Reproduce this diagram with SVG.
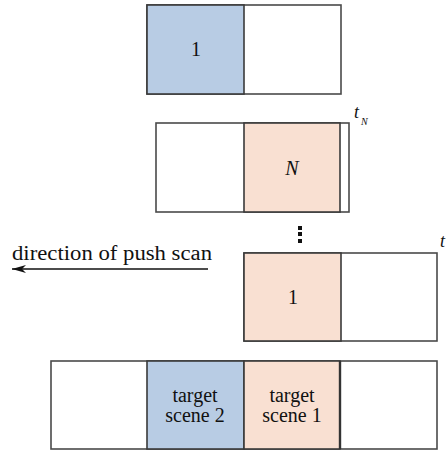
<svg xmlns="http://www.w3.org/2000/svg" width="448" height="452" viewBox="0 0 448 452">
<style>
.box{fill:#fff;stroke:#4a4a4a;stroke-width:1.6}
.blue{fill:#b8cce4;stroke:#3a3a3a;stroke-width:1.6}
.peach{fill:#f9e0d2;stroke:#3a3a3a;stroke-width:1.6}
.t{font-family:"Liberation Serif",serif;font-size:20px;fill:#111;text-anchor:middle}
.i{font-style:italic}
.s{text-anchor:start}
</style>
<defs>
<marker id="ah" viewBox="0 0 14 8" refX="14" refY="4" markerWidth="14" markerHeight="8" markerUnits="userSpaceOnUse" orient="auto">
<path d="M14,4 L0,0 L4,4 L0,8 Z" fill="#111"/>
</marker>
</defs>
<g id="frame1">
<rect class="box" x="147" y="5" width="194" height="89"/>
<rect class="blue" x="147" y="5" width="97" height="89"/>
<text class="t" x="196" y="56">1</text>
</g>
<g id="frameN">
<rect class="box" x="156" y="123" width="193" height="89"/>
<rect class="peach" x="244" y="123" width="96" height="89"/>
<text class="t i" x="292" y="175">N</text>
<text class="t i s" x="354" y="118" style="font-size:18px">t</text>
<text class="t i s" x="361" y="125" style="font-size:10px">N</text>
</g>
<g id="dots" fill="#111">
<rect x="298" y="226" width="4" height="4"/>
<rect x="298" y="232" width="4" height="4"/>
<rect x="298" y="239" width="4" height="4"/>
</g>
<g id="frame1b">
<rect class="box" x="244" y="253" width="193" height="88"/>
<rect class="peach" x="244" y="253" width="97" height="88"/>
<text class="t" x="293" y="304">1</text>
<text class="t i s" x="440" y="247" style="font-size:18px">t</text>
</g>
<g id="direction">
<text class="t s" x="12" y="260" textLength="200" lengthAdjust="spacingAndGlyphs">direction of push scan</text>
</g>
<g id="connectors">
<line x1="208" y1="269" x2="12" y2="269" stroke="#111" stroke-width="1.6" marker-end="url(#ah)"/>
</g>
<g id="scene">
<rect class="box" x="51" y="361" width="386" height="88"/>
<rect class="blue" x="147" y="361" width="97" height="88"/>
<rect class="peach" x="244" y="361" width="96" height="88"/>
<line x1="340" y1="361" x2="340" y2="449" stroke="#333" stroke-width="2.4"/>
<text class="t" x="195" y="402">target</text>
<text class="t" x="195" y="422">scene 2</text>
<text class="t" x="292" y="402">target</text>
<text class="t" x="292" y="422">scene 1</text>
</g>
</svg>
